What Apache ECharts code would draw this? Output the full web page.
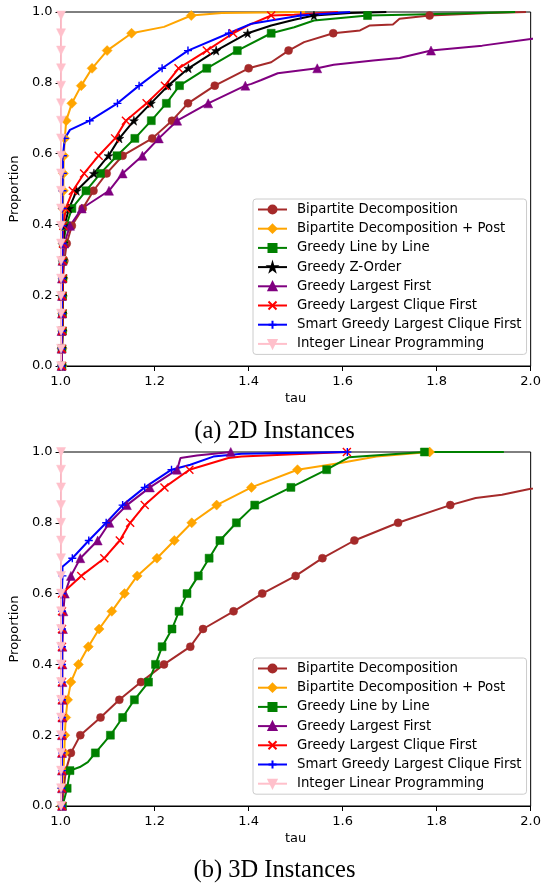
<!DOCTYPE html>
<html>
<head>
<meta charset="utf-8">
<script src="https://cdn.jsdelivr.net/npm/echarts@6/dist/echarts.min.js"></script>
<style>
  html, body { margin: 0; padding: 0; background: #fff; }
  #chart { width: 544px; height: 886px; }
</style>
</head>
<body>
<div id="chart"></div>
<script>
const xTicks = [1.0, 1.2, 1.4, 1.6, 1.8, 2.0];
const yTicks = [0.0, 0.2, 0.4, 0.6, 0.8, 1.0];

const names2D = [
  'Bipartite Decomposition',
  'Bipartite Decomposition + Post',
  'Greedy Line by Line',
  'Greedy Z-Order',
  'Greedy Largest First',
  'Greedy Largest Clique First',
  'Smart Greedy Largest Clique First',
  'Integer Linear Programming'
];
const names3D = [
  'Bipartite Decomposition',
  'Bipartite Decomposition + Post',
  'Greedy Line by Line',
  'Greedy Largest First',
  'Greedy Largest Clique First',
  'Smart Greedy Largest Clique First',
  'Integer Linear Programming'
];

// proportions at which markers sit
const levels2D = [0, 0.049, 0.099, 0.148, 0.198, 0.247, 0.297, 0.346, 0.396, 0.445, 0.495,
  0.544, 0.594, 0.643, 0.693, 0.742, 0.792, 0.841, 0.891, 0.940, 0.990];
const levels3D = [0, 0.05, 0.10, 0.15, 0.20, 0.25, 0.30, 0.35, 0.40, 0.45, 0.50,
  0.55, 0.60, 0.65, 0.70, 0.75, 0.80, 0.85, 0.90, 0.95, 1.0];

// ---- 2D instances: tau at each marker level (null = off the chart) ----
const bd2D = [1.003, 1.003, 1.004, 1.004, 1.005, 1.005, 1.008, 1.013, 1.024, 1.047, 1.070,
  1.098, 1.132, 1.195, 1.237, 1.271, 1.328, 1.400, 1.485, 1.580, 1.785];
const bdPost2D = [1.003, 1.003, 1.004, 1.004, 1.004, 1.005, 1.005, 1.005, 1.005, 1.005, 1.006,
  1.006, 1.007, 1.009, 1.012, 1.024, 1.044, 1.067, 1.099, 1.151, 1.278];
const lineByLine2D = [1.003, 1.003, 1.004, 1.004, 1.004, 1.005, 1.005, 1.006, 1.012, 1.024, 1.054,
  1.085, 1.120, 1.158, 1.193, 1.225, 1.253, 1.311, 1.376, 1.448, 1.653];
const zOrder2D = [1.003, 1.003, 1.004, 1.004, 1.004, 1.005, 1.005, 1.006, 1.008, 1.018, 1.034,
  1.071, 1.102, 1.125, 1.156, 1.192, 1.229, 1.272, 1.331, 1.398, 1.539];
const largestFirst2D = [1.002, 1.002, 1.002, 1.003, 1.003, 1.003, 1.004, 1.008, 1.020, 1.045, 1.103,
  1.132, 1.174, 1.209, 1.248, 1.314, 1.393, 1.546, 1.788, null, null];
const cliqueFirst2D = [1.003, 1.003, 1.004, 1.004, 1.004, 1.005, 1.005, 1.005, 1.006, 1.011, 1.026,
  1.050, 1.081, 1.116, 1.139, 1.183, 1.222, 1.251, 1.311, 1.367, 1.448];
const smartClique2D = [1.002, 1.002, 1.003, 1.003, 1.003, 1.003, 1.004, 1.004, 1.004, 1.004, 1.004,
  1.005, 1.005, 1.009, 1.062, 1.121, 1.167, 1.216, 1.271, 1.358, 1.511];
const ilp2D = [1.001, 1.001, 1.001, 1.001, 1.001, 1.001, 1.001, 1.001, 1.001, 1.001, 1.001,
  1.001, 1.001, 1.001, 1.001, 1.001, 1.001, 1.001, 1.001, 1.001, 1.001];

// extra curve points between markers [tau, proportion]
const bd2DExtra = [[1.448, 0.858], [1.518, 0.915], [1.637, 0.948], [1.658, 0.962], [1.707, 0.965],
  [1.721, 0.981], [1.911, 0.997], [1.99, 1.0]];
const bdPost2DExtra = [[1.22, 0.958], [1.343, 0.997], [1.52, 1.0]];
const lineByLine2DExtra = [[1.497, 0.957], [1.539, 0.976], [1.757, 0.993], [1.967, 1.0]];
const zOrder2DExtra = [[1.448, 0.962], [1.497, 0.978], [1.616, 0.997], [1.693, 1.0]];
const largestFirst2DExtra = [[1.406, 0.797], [1.427, 0.808], [1.462, 0.827], [1.581, 0.851],
  [1.665, 0.863], [1.721, 0.870], [1.897, 0.905], [2.0, 0.924], [2.1, 0.94]];
const cliqueFirst2DExtra = [[1.399, 0.962], [1.497, 0.992], [1.59, 1.0]];
const smartClique2DExtra = [[1.020, 0.667], [1.406, 0.967], [1.616, 1.0]];
const ilp2DExtra = [[1.001, 1.0]];

// ---- 3D instances ----
const bd3D = [1.003, 1.007, 1.011, 1.022, 1.042, 1.085, 1.125, 1.171, 1.220, 1.276, 1.303,
  1.368, 1.429, 1.500, 1.557, 1.625, 1.718, 1.829, null, null, null];
const bdPost3D = [1.002, 1.004, 1.006, 1.008, 1.009, 1.011, 1.015, 1.022, 1.038, 1.059, 1.082,
  1.109, 1.136, 1.163, 1.205, 1.242, 1.279, 1.332, 1.406, 1.504, 1.785];
const lineByLine3D = [1.004, 1.014, 1.020, 1.074, 1.106, 1.132, 1.157, 1.187, 1.202, 1.216, 1.237,
  1.252, 1.269, 1.293, 1.316, 1.339, 1.374, 1.413, 1.490, 1.566, 1.774];
const largestFirst3D = [1.003, 1.003, 1.003, 1.003, 1.003, 1.004, 1.004, 1.004, 1.004, 1.004, 1.005,
  1.006, 1.009, 1.022, 1.042, 1.079, 1.104, 1.141, 1.190, 1.248, 1.362];
const cliqueFirst3D = [1.003, 1.003, 1.003, 1.003, 1.003, 1.003, 1.003, 1.003, 1.003, 1.003, 1.003,
  1.003, 1.003, 1.044, 1.093, 1.126, 1.148, 1.179, 1.221, 1.274, 1.609];
const smartClique3D = [1.002, 1.002, 1.003, 1.003, 1.003, 1.003, 1.003, 1.003, 1.003, 1.003, 1.003,
  1.003, 1.003, 1.004, 1.025, 1.060, 1.097, 1.132, 1.179, 1.236, 1.610];
const ilp3D = [1.001, 1.001, 1.001, 1.001, 1.001, 1.001, 1.001, 1.001, 1.001, 1.001, 1.001,
  1.001, 1.001, 1.001, 1.001, 1.001, 1.001, 1.001, 1.001, 1.001, 1.001];

const bd3DExtra = [[1.883, 0.870], [1.939, 0.879], [2.0, 0.896], [2.1, 0.91]];
const bdPost3DExtra = [[1.595, 0.969], [1.672, 0.987]];
const lineByLine3DExtra = [[1.041, 0.110], [1.058, 0.124], [1.613, 0.985], [1.943, 1.0]];
const largestFirst3DExtra = [[1.255, 0.983], [1.29, 0.990]];
const cliqueFirst3DExtra = [[1.023, 0.624], [1.357, 0.983], [1.385, 0.987]];
const smartClique3DExtra = [[1.004, 0.676], [1.276, 0.964], [1.325, 0.987], [1.385, 0.995]];
const ilp3DExtra = [];

const STAR = 'path://M50,0L61,35L98,35L68,57L79,91L50,70L21,91L32,57L2,35L39,35Z';
const seriesStyle = {
  'Bipartite Decomposition': { color: '#a52a2a', symbol: 'circle', size: 8 },
  'Bipartite Decomposition + Post': { color: '#ffa500', symbol: 'diamond', size: 10 },
  'Greedy Line by Line': { color: '#008000', symbol: 'rect', size: 8 },
  'Greedy Z-Order': { color: '#000000', symbol: STAR, size: 9 },
  'Greedy Largest First': { color: '#800080', symbol: 'triangle', size: 9 },
  'Greedy Largest Clique First': { color: '#ff0000', symbol: 'path://M0,0L10,10M10,0L0,10', size: 8, stroke: true },
  'Smart Greedy Largest Clique First': { color: '#0000ff', symbol: 'path://M5,0L5,10M0,5L10,5', size: 8, stroke: true },
  'Integer Linear Programming': { color: '#ffc0cb', symbol: 'triangle', size: 9, rotate: 180 }
};

const FONT = 'DejaVu Sans';

function buildSeries(name, taus, extras, levels, gi) {
  const st = seriesStyle[name];
  const pts = [];
  taus.forEach((t, k) => {
    if (t !== null) pts.push({ value: [t, levels[k]] });
  });
  extras.forEach(e => pts.push({ value: e, symbol: 'none' }));
  pts.sort((a, b) => (a.value[1] - b.value[1]) || (a.value[0] - b.value[0]));
  return {
    name: name,
    type: 'line',
    xAxisIndex: gi,
    yAxisIndex: gi,
    data: pts,
    symbol: st.symbol,
    symbolSize: st.size,
    symbolRotate: st.rotate || 0,
    showSymbol: true,
    showAllSymbol: true,
    animation: false,
    emphasis: { disabled: true },
    lineStyle: { color: st.color, width: 2 },
    itemStyle: {
      color: st.color,
      borderColor: st.color,
      borderWidth: st.stroke ? 1.4 : 0.5
    }
  };
}

function gridFor(top) {
  return { left: 57, top: top, width: 475, height: 354, show: true, borderColor: '#000', borderWidth: 1 };
}

function xAxisFor(gi) {
  return {
    type: 'value', gridIndex: gi,
    min: xTicks[0], max: xTicks[xTicks.length - 1], interval: 0.2,
    name: 'tau', nameLocation: 'middle', nameGap: 26,
    nameTextStyle: { fontFamily: FONT, fontSize: 13, color: '#000' },
    axisLine: { show: true, onZero: false, lineStyle: { color: '#000', width: 1 } },
    axisTick: { show: true, inside: false, length: 5, lineStyle: { color: '#000', width: 1 } },
    axisLabel: { margin: 9, fontFamily: FONT, fontSize: 13, color: '#000', formatter: v => v.toFixed(1) },
    splitLine: { show: false }
  };
}

function yAxisFor(gi) {
  return {
    type: 'value', gridIndex: gi,
    min: yTicks[0], max: yTicks[yTicks.length - 1], interval: 0.2,
    name: 'Proportion', nameLocation: 'middle', nameGap: 37, nameRotate: 90,
    nameTextStyle: { fontFamily: FONT, fontSize: 13, color: '#000' },
    axisLine: { show: true, onZero: false, lineStyle: { color: '#000', width: 1 } },
    axisTick: { show: true, inside: false, length: 5, lineStyle: { color: '#000', width: 1 } },
    axisLabel: { margin: 8, fontFamily: FONT, fontSize: 13, color: '#000', formatter: v => v.toFixed(1) },
    splitLine: { show: false }
  };
}

function legendFor(names, top) {
  return {
    data: names, orient: 'vertical', left: 253, top: top,
    itemWidth: 29, itemHeight: 10, itemGap: 6.2,
    padding: [4, 5, 4, 4],
    borderColor: '#cccccc', borderWidth: 1, borderRadius: 3,
    backgroundColor: 'rgba(255,255,255,0.8)',
    selectedMode: false,
    textStyle: { fontFamily: FONT, fontSize: 13.3, color: '#000', padding: [0, 0, 0, 5] }
  };
}

function caption(text, y) {
  return {
    type: 'text', x: 274.5, y: y,
    style: {
      text: text, font: '24.5px "Liberation Serif"', fill: '#000',
      align: 'center', verticalAlign: 'middle',
      textAlign: 'center', textVerticalAlign: 'middle'
    }
  };
}

const series = [
  buildSeries(names2D[0], bd2D, bd2DExtra, levels2D, 0),
  buildSeries(names2D[1], bdPost2D, bdPost2DExtra, levels2D, 0),
  buildSeries(names2D[2], lineByLine2D, lineByLine2DExtra, levels2D, 0),
  buildSeries(names2D[3], zOrder2D, zOrder2DExtra, levels2D, 0),
  buildSeries(names2D[4], largestFirst2D, largestFirst2DExtra, levels2D, 0),
  buildSeries(names2D[5], cliqueFirst2D, cliqueFirst2DExtra, levels2D, 0),
  buildSeries(names2D[6], smartClique2D, smartClique2DExtra, levels2D, 0),
  buildSeries(names2D[7], ilp2D, ilp2DExtra, levels2D, 0),
  buildSeries(names3D[0], bd3D, bd3DExtra, levels3D, 1),
  buildSeries(names3D[1], bdPost3D, bdPost3DExtra, levels3D, 1),
  buildSeries(names3D[2], lineByLine3D, lineByLine3DExtra, levels3D, 1),
  buildSeries(names3D[3], largestFirst3D, largestFirst3DExtra, levels3D, 1),
  buildSeries(names3D[4], cliqueFirst3D, cliqueFirst3DExtra, levels3D, 1),
  buildSeries(names3D[5], smartClique3D, smartClique3DExtra, levels3D, 1),
  buildSeries(names3D[6], ilp3D, ilp3DExtra, levels3D, 1)
];

const chart = echarts.init(document.getElementById('chart'), null, { renderer: 'canvas' });
chart.setOption({
  animation: false,
  backgroundColor: '#fff',
  grid: [gridFor(12), gridFor(452)],
  xAxis: [xAxisFor(0), xAxisFor(1)],
  yAxis: [yAxisFor(0), yAxisFor(1)],
  legend: [legendFor(names2D, 199), legendFor(names3D, 658)],
  graphic: [caption('(a) 2D Instances', 432), caption('(b) 3D Instances', 871)],
  series: series
});
</script>
</body>
</html>
